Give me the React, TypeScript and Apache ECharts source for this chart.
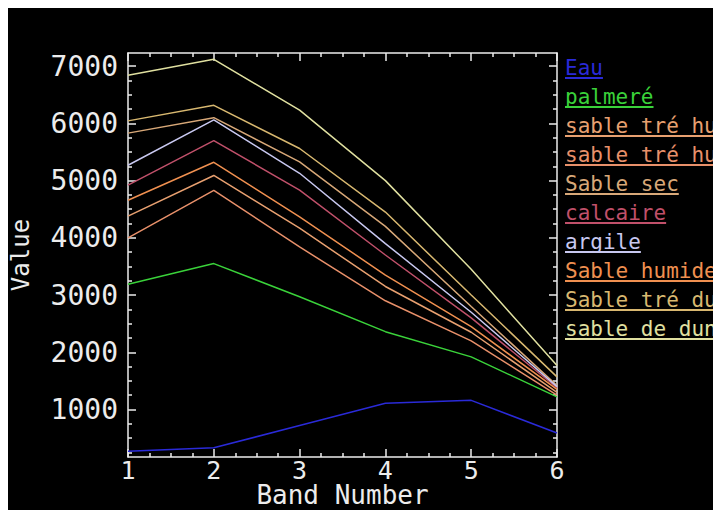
import React, { useEffect, useRef } from "react";
import * as echarts from "echarts";

const bands = [1, 2, 3, 4, 5, 6];
const seriesNames = [
  "Eau",
  "palmeré",
  "sable tré humide 1",
  "sable tré humide 2",
  "Sable sec",
  "calcaire",
  "argile",
  "Sable humide",
  "Sable tré dune",
  "sable de dune",
];
const seriesColors = [
  "#2a2ad8",
  "#3ad23a",
  "#e8a070",
  "#e8906a",
  "#d8a878",
  "#c0506a",
  "#c8c8f0",
  "#f09050",
  "#d8b870",
  "#e0e0a0",
];
const eau = [270, 330, 720, 1110, 1160, 590];
const palmere = [3190, 3550, 2970, 2360, 1920, 1220];
const sableTreHum1 = [4380, 5090, 4168, 3150, 2350, 1300];
const sableTreHum2 = [4000, 4830, 3841, 2900, 2200, 1250];
const sableSec = [5830, 6100, 5327, 4200, 2800, 1420];
const calcaire = [4920, 5700, 4832, 3700, 2600, 1380];
const argile = [5269, 6060, 5128, 3900, 2700, 1400];
const sableHumide = [4657, 5320, 4366, 3350, 2450, 1350];
const sableTreDun = [6044, 6316, 5561, 4450, 3000, 1570];
const sableDeDun = [6843, 7120, 6231, 5000, 3450, 1770];
const allValues = [
  eau,
  palmere,
  sableTreHum1,
  sableTreHum2,
  sableSec,
  calcaire,
  argile,
  sableHumide,
  sableTreDun,
  sableDeDun,
];
const yMajorTicks = [1000, 2000, 3000, 4000, 5000, 6000, 7000];
const yMinorTicks = [
  250, 500, 750, 1250, 1500, 1750, 2250, 2500, 2750, 3250, 3500, 3750, 4250,
  4500, 4750, 5250, 5500, 5750, 6250, 6500, 6750,
];
const yMin = 170;
const yMax = 7230;

const FONT = "DejaVu Sans Mono";
const WHITE = "#ececec";

export default function App() {
  const ref = useRef<HTMLDivElement>(null);
  useEffect(() => {
    if (!ref.current) return;
    const chart = echarts.init(ref.current, null, { renderer: "svg" });
    const grid = { left: 120, right: 164, top: 45, bottom: 53, outerBoundsMode: "none", containLabel: false };
    const yBase = {
      type: "value",
      min: yMin,
      max: yMax,
      splitLine: { show: false },
      axisLine: { show: false },
      axisLabel: { show: false },
    };
    const tickStyle = { color: WHITE, width: 1.5 };
    const option: any = {
      animation: false,
      backgroundColor: "#000",
      grid,
      legend: {
        orient: "vertical",
        left: 552,
        top: 48,
        itemWidth: 0,
        itemHeight: 0,
        itemGap: 6,
        icon: "rect",
        selectedMode: false,
        padding: 0,
        data: seriesNames.map((n, i) => {
          const long = n.length > 12;
          const textStyle: any = {
            color: seriesColors[i],
            fontFamily: FONT,
            fontSize: 21,
            lineHeight: 21,
            padding: [0, 0, 2, 0],
            backgroundColor: new echarts.graphic.LinearGradient(0, 0, 0, 1, [
              { offset: 0, color: "rgba(0,0,0,0)" },
              { offset: 0.9, color: "rgba(0,0,0,0)" },
              { offset: 0.9, color: seriesColors[i] },
              { offset: 1, color: seriesColors[i] },
            ]),
          };
          if (long) {
            textStyle.width = 155;
            textStyle.overflow = "truncate";
            textStyle.ellipsis = "";
          }
          return { name: n, textStyle };
        }),
      },
      xAxis: [
        {
          type: "value",
          min: 1,
          max: 6,
          interval: 1,
          position: "bottom",
          name: "Band Number",
          nameLocation: "middle",
          nameGap: 25,
          nameMoveOverlap: false,
          nameTextStyle: { color: WHITE, fontFamily: FONT, fontSize: 26, lineHeight: 26 },
          axisLine: { show: true, lineStyle: tickStyle },
          axisTick: { show: true, inside: true, length: 8, lineStyle: tickStyle },
          minorTick: { show: true, splitNumber: 4, length: 4, lineStyle: tickStyle },
          splitLine: { show: false },
          axisLabel: { color: WHITE, fontFamily: FONT, fontSize: 25, lineHeight: 25, margin: 1 },
        },
        {
          type: "value",
          min: 1,
          max: 6,
          interval: 1,
          position: "top",
          axisLine: { show: true, lineStyle: tickStyle },
          axisTick: { show: true, inside: true, length: 8, lineStyle: tickStyle },
          minorTick: { show: true, splitNumber: 4, length: 4, lineStyle: tickStyle },
          splitLine: { show: false },
          axisLabel: { show: false },
        },
      ],
      yAxis: [
        {
          ...yBase,
          position: "left",
          name: "Value",
          nameLocation: "middle",
          nameGap: 95,
          nameMoveOverlap: false,
          nameRotate: 90,
          nameTextStyle: { color: WHITE, fontFamily: FONT, fontSize: 24 },
          axisLine: { show: true, lineStyle: tickStyle },
          axisTick: { show: true, inside: true, length: 8, customValues: yMajorTicks, lineStyle: tickStyle },
          axisLabel: {
            show: true,
            customValues: yMajorTicks,
            formatter: (v: number) => String(v),
            color: WHITE,
            fontFamily: FONT,
            fontSize: 28,
            margin: 10,
          },
        },
        {
          ...yBase,
          position: "left",
          axisTick: { show: true, inside: true, length: 4, customValues: yMinorTicks, lineStyle: tickStyle },
        },
        {
          ...yBase,
          position: "right",
          axisLine: { show: true, lineStyle: tickStyle },
          axisTick: { show: true, inside: true, length: 8, customValues: yMajorTicks, lineStyle: tickStyle },
        },
        {
          ...yBase,
          position: "right",
          axisTick: { show: true, inside: true, length: 4, customValues: yMinorTicks, lineStyle: tickStyle },
        },
      ],
      series: seriesNames.map((n, i) => ({
        name: n,
        type: "line",
        xAxisIndex: 0,
        yAxisIndex: 0,
        showSymbol: false,
        symbol: "none",
        color: seriesColors[i],
        lineStyle: { color: seriesColors[i], width: 1.5 },
        data: bands.map((b, j) => [b, allValues[i][j]]),
      })),
    };
    chart.setOption(option);
    return () => chart.dispose();
  }, []);
  return <div ref={ref} style={{ width: 713, height: 502, background: "#000" }} />;
}
